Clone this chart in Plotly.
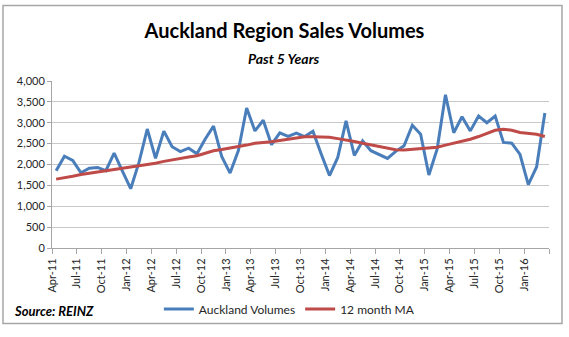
import plotly.graph_objects as go

months = ["Apr-11","May-11","Jun-11","Jul-11","Aug-11","Sep-11","Oct-11","Nov-11","Dec-11",
          "Jan-12","Feb-12","Mar-12","Apr-12","May-12","Jun-12","Jul-12","Aug-12","Sep-12","Oct-12","Nov-12","Dec-12",
          "Jan-13","Feb-13","Mar-13","Apr-13","May-13","Jun-13","Jul-13","Aug-13","Sep-13","Oct-13","Nov-13","Dec-13",
          "Jan-14","Feb-14","Mar-14","Apr-14","May-14","Jun-14","Jul-14","Aug-14","Sep-14","Oct-14","Nov-14","Dec-14",
          "Jan-15","Feb-15","Mar-15","Apr-15","May-15","Jun-15","Jul-15","Aug-15","Sep-15","Oct-15","Nov-15","Dec-15",
          "Jan-16","Feb-16","Mar-16"]

auckland_volumes = [1850, 2200, 2100, 1800, 1910, 1930, 1850, 2270, 1840,
                    1420, 2050, 2850, 2150, 2800, 2425, 2310, 2390, 2255, 2610, 2920, 2185,
                    1795, 2335, 3355, 2805, 3060, 2475, 2760, 2675, 2750, 2670, 2795, 2250,
                    1735, 2170, 3045, 2215, 2565, 2330, 2240, 2145, 2315, 2450, 2940, 2725,
                    1750, 2375, 3670, 2760, 3145, 2805, 3160, 3000, 3160, 2530, 2510,
                    2240, 1520, 1940, 3235]

ma_12_month = [1650, 1680, 1720, 1760, 1790, 1820, 1850, 1880, 1910,
               1935, 1970, 2000, 2030, 2075, 2115, 2150, 2180, 2210, 2270, 2330, 2360,
               2390, 2430, 2465, 2510, 2525, 2545, 2575, 2605, 2640, 2665, 2665, 2655,
               2650, 2620, 2590, 2550, 2510, 2470, 2425, 2390, 2355, 2350, 2370, 2390,
               2400, 2415, 2465, 2510, 2560, 2605, 2670, 2740, 2820, 2845, 2820,
               2765, 2745, 2725, 2670]

tick_labels = ["Apr-11","Jul-11","Oct-11","Jan-12","Apr-12","Jul-12","Oct-12","Jan-13","Apr-13",
               "Jul-13","Oct-13","Jan-14","Apr-14","Jul-14","Oct-14","Jan-15","Apr-15","Jul-15",
               "Oct-15","Jan-16",""]

y_ticks = [0, 500, 1000, 1500, 2000, 2500, 3000, 3500, 4000]

xpos = [i + 0.5 for i in range(len(months))]
tickvals = [3 * k for k in range(len(tick_labels))]

FONT = "Lato, 'Open Sans', sans-serif"

fig = go.Figure()
fig.add_trace(go.Scatter(x=xpos, y=auckland_volumes, mode="lines", name="Auckland Volumes",
                         line=dict(color="#4a7ebb", width=3), customdata=months,
                         hovertemplate="%{customdata}: %{y:,}<extra></extra>"))
fig.add_trace(go.Scatter(x=xpos, y=ma_12_month, mode="lines", name="12 month MA",
                         line=dict(color="#be4b48", width=3), customdata=months,
                         hovertemplate="%{customdata}: %{y:,}<extra></extra>"))

fig.update_layout(
    width=569, height=337,
    margin=dict(l=52, r=20, t=81, b=89),
    paper_bgcolor="white", plot_bgcolor="white",
    font=dict(family=FONT, color="#262626", size=11),
    title=dict(text="<b>Auckland Region Sales Volumes</b>", x=0.5, xanchor="center",
               xref="container", y=1 - 31 / 337, yref="container", yanchor="middle",
               font=dict(family=FONT, size=20, color="black")),
    showlegend=True,
    legend=dict(orientation="h", x=0.215, xanchor="left", y=-0.365, yanchor="middle",
                font=dict(family=FONT, size=12, color="#262626"), itemwidth=30,
                bgcolor="rgba(0,0,0,0)", tracegroupgap=0),
    xaxis=dict(range=[0, 60], tickmode="array", tickvals=tickvals, ticktext=tick_labels,
               tickangle=-90, showgrid=False, showline=True, linecolor="#a6a6a6", linewidth=1,
               ticks="outside", ticklen=5, tickcolor="#a6a6a6", zeroline=False,
               tickfont=dict(family=FONT, size=11, color="#262626")),
    yaxis=dict(range=[0, 4000], tickmode="array", tickvals=y_ticks, tickformat=",",
               showgrid=True, gridcolor="#c8c8c8", gridwidth=1, showline=True,
               linecolor="#a6a6a6", linewidth=1, ticks="outside", ticklen=4,
               tickcolor="#a6a6a6", zeroline=False,
               tickfont=dict(family=FONT, size=11, color="#262626")),
    annotations=[
        dict(text="<b><i>Past 5 Years</i></b>", xref="paper", yref="paper",
             x=0.466, y=(248.3 - 58) / 167.6, xanchor="center", yanchor="middle",
             showarrow=False, font=dict(family=FONT, size=14, color="black")),
        dict(text="<b><i>Source: REINZ</i></b>", xref="paper", yref="paper",
             x=(12 - 52) / 497, y=(248.3 - 312) / 167.6, xanchor="left", yanchor="middle",
             showarrow=False, font=dict(family=FONT, size=13, color="black")),
    ],
    shapes=[
        dict(type="rect", xref="paper", yref="paper",
             x0=(3 - 52) / 497, x1=(562 - 52) / 497,
             y0=(248.3 - 324) / 167.6, y1=(248.3 - 5) / 167.6,
             line=dict(color="#a6a6a6", width=1.5), fillcolor="rgba(0,0,0,0)", layer="below"),
    ],
)

fig.write_html("out.html")
